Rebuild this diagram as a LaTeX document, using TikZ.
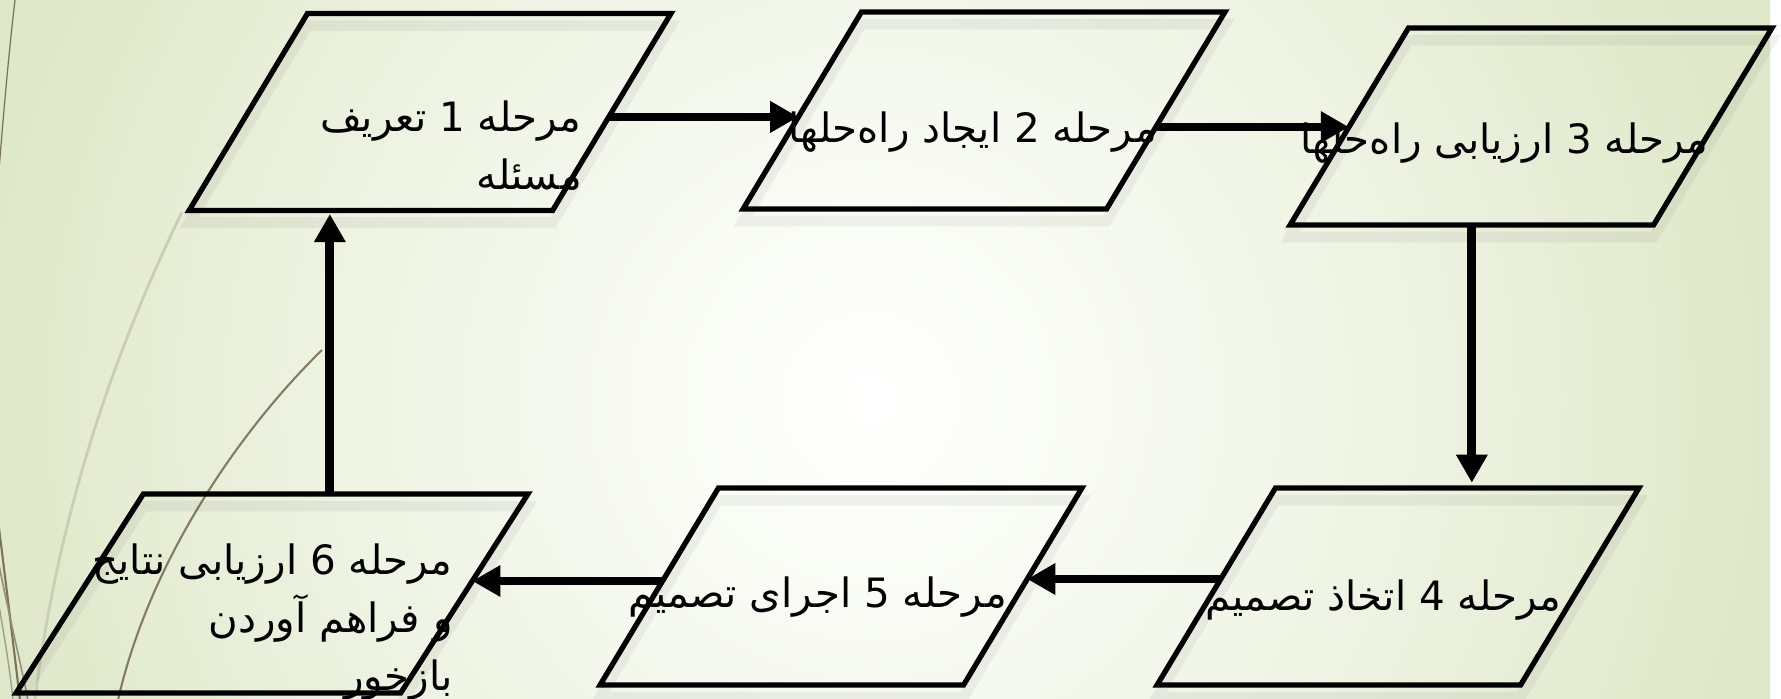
\documentclass[tikz,border=0pt]{standalone}
\usepackage{fontspec}
\newfontfamily\arabicfont[Script=Arabic]{DejaVu Sans}
\TeXXeTstate=1
\usetikzlibrary{shapes.geometric,arrows.meta,calc}
\definecolor{bgedge}{HTML}{DFE8C9}
\definecolor{bgmid}{HTML}{EEF3E2}
\definecolor{bgin}{HTML}{F9FBF4}
\definecolor{wispdark}{HTML}{7A7358}
\definecolor{wispbrown}{HTML}{857B62}
\definecolor{wisplight}{HTML}{CDCDB6}
\pgfdeclareradialshading{bgshade}{\pgfpoint{0bp}{0bp}}{color(0bp)=(white); color(6bp)=(bgin); color(15bp)=(bgmid); color(25bp)=(bgedge); color(50bp)=(bgedge)}
\begin{document}
\begin{tikzpicture}[x=0.02cm,y=-0.02cm,
  box/.style={trapezium, draw=black, line width=3pt,
    trapezium left angle=59, trapezium right angle=121,
    inner xsep=2.452cm, inner ysep=1.97cm, outer sep=0pt},
  boxsix/.style={box, inner xsep=2.574cm, inner ysep=1.99cm,
    trapezium left angle=57.4, trapezium right angle=122.6},
  shadowbox/.style={draw=black, draw opacity=0.05, line width=6pt},
  txt/.style={font=\arabicfont\fontsize{23}{33}\selectfont, align=right,
    inner sep=0pt, text=black, anchor=east},
  arr/.style={line width=5pt, -{Triangle[width=17pt,length=16pt]}}]
\useasboundingbox (0,0) rectangle (1781,698);
% background
\begin{scope}
  \clip (0,0) rectangle (1781,698);
  \shade[shading=bgshade] (-30,-500) rectangle (1770,1300);
  \draw[wispdark, line width=0.7pt] (15,0) .. controls (8,60) and (3,120) .. (-1,170);
  \draw[wisplight, line width=1.6pt] (182,212) .. controls (120,340) and (60,500) .. (35,700);
  \draw[wispbrown, line width=1.2pt] (322,350) .. controls (240,430) and (150,560) .. (118,700);
  \draw[wispdark, line width=1.2pt] (-2,520) .. controls (8,600) and (14,650) .. (20,700);
  \draw[wispdark!80, line width=0.9pt] (-2,560) .. controls (10,620) and (20,660) .. (28,700);
  \draw[wispdark!70, line width=0.8pt] (-2,600) .. controls (5,640) and (10,670) .. (13,700);
\end{scope}
% shadows
\node[box, shadowbox] (sh1) at (430,124) {};
\node[box, shadowbox] (sh2) at (984,122.5) {};
\node[box, shadowbox] (sh3) at (1531,138.5) {};
\node[box, shadowbox] (sh4) at (1398,598.5) {};
\node[box, shadowbox] (sh5) at (841,598.5) {};
\node[boxsix, shadowbox] (sh6) at (272,605.5) {};
% boxes
\node[box] (b1) at (430,112) {};
\node[box] (b2) at (984,110.5) {};
\node[box] (b3) at (1531,126.5) {};
\node[box] (b4) at (1398,586.5) {};
\node[box] (b5) at (841,586.5) {};
\node[boxsix] (b6) at (272,593.5) {};
% texts
\node[txt] (t1) at (582,146) {\beginR مرحله 1 تعریف\endR\\\beginR مسئله\endR};
\node[txt] (t2) at (1157,132) {\beginR مرحله 2 ایجاد راه‌حلها\endR};
\node[txt] (t3) at (1709,143) {\beginR مرحله 3 ارزیابی راه‌حلها\endR};
\node[txt] (t4) at (1562,600) {\beginR مرحله 4 اتخاذ تصمیم\endR};
\node[txt] (t5) at (1007,597) {\beginR مرحله 5 اجرای تصمیم\endR};
\node[txt] (t6) at (453,622) {\beginR مرحله 6 ارزیابی نتایج\endR\\\beginR و فراهم آوردن\endR\\\beginR بازخور\endR};
% connector points
\coordinate (s12) at ($(b1.top right corner)!0.525!(b1.bottom right corner)$);
\coordinate (e12) at ($(b2.top left corner)!0.533!(b2.bottom left corner)$);
\coordinate (s23) at ($(b2.top right corner)!0.584!(b2.bottom right corner)$);
\coordinate (e23) at ($(b3.top left corner)!0.503!(b3.bottom left corner)$);
\coordinate (s45) at ($(b4.top left corner)!0.462!(b4.bottom left corner)$);
\coordinate (e45) at ($(b5.top right corner)!0.462!(b5.bottom right corner)$);
\coordinate (s56) at ($(b5.top left corner)!0.472!(b5.bottom left corner)$);
\coordinate (e56) at ($(b6.top right corner)!0.437!(b6.bottom right corner)$);
\coordinate (s61) at ($(b6.top left corner)!0.485!(b6.top right corner)$);
% connectors
\draw[arr] (s12) -- (s12 -| e12);
\draw[arr] (s23) -- (s23 -| e23);
\draw[arr, shorten >=3pt] (b3.bottom side) -- (b3.bottom side |- b4.top side);
\draw[arr] (s45) -- (s45 -| e45);
\draw[arr] (s56) -- (s56 -| e56);
\draw[arr, shorten >=2pt] (s61) -- (s61 |- b1.bottom side);
\end{tikzpicture}
\end{document}
